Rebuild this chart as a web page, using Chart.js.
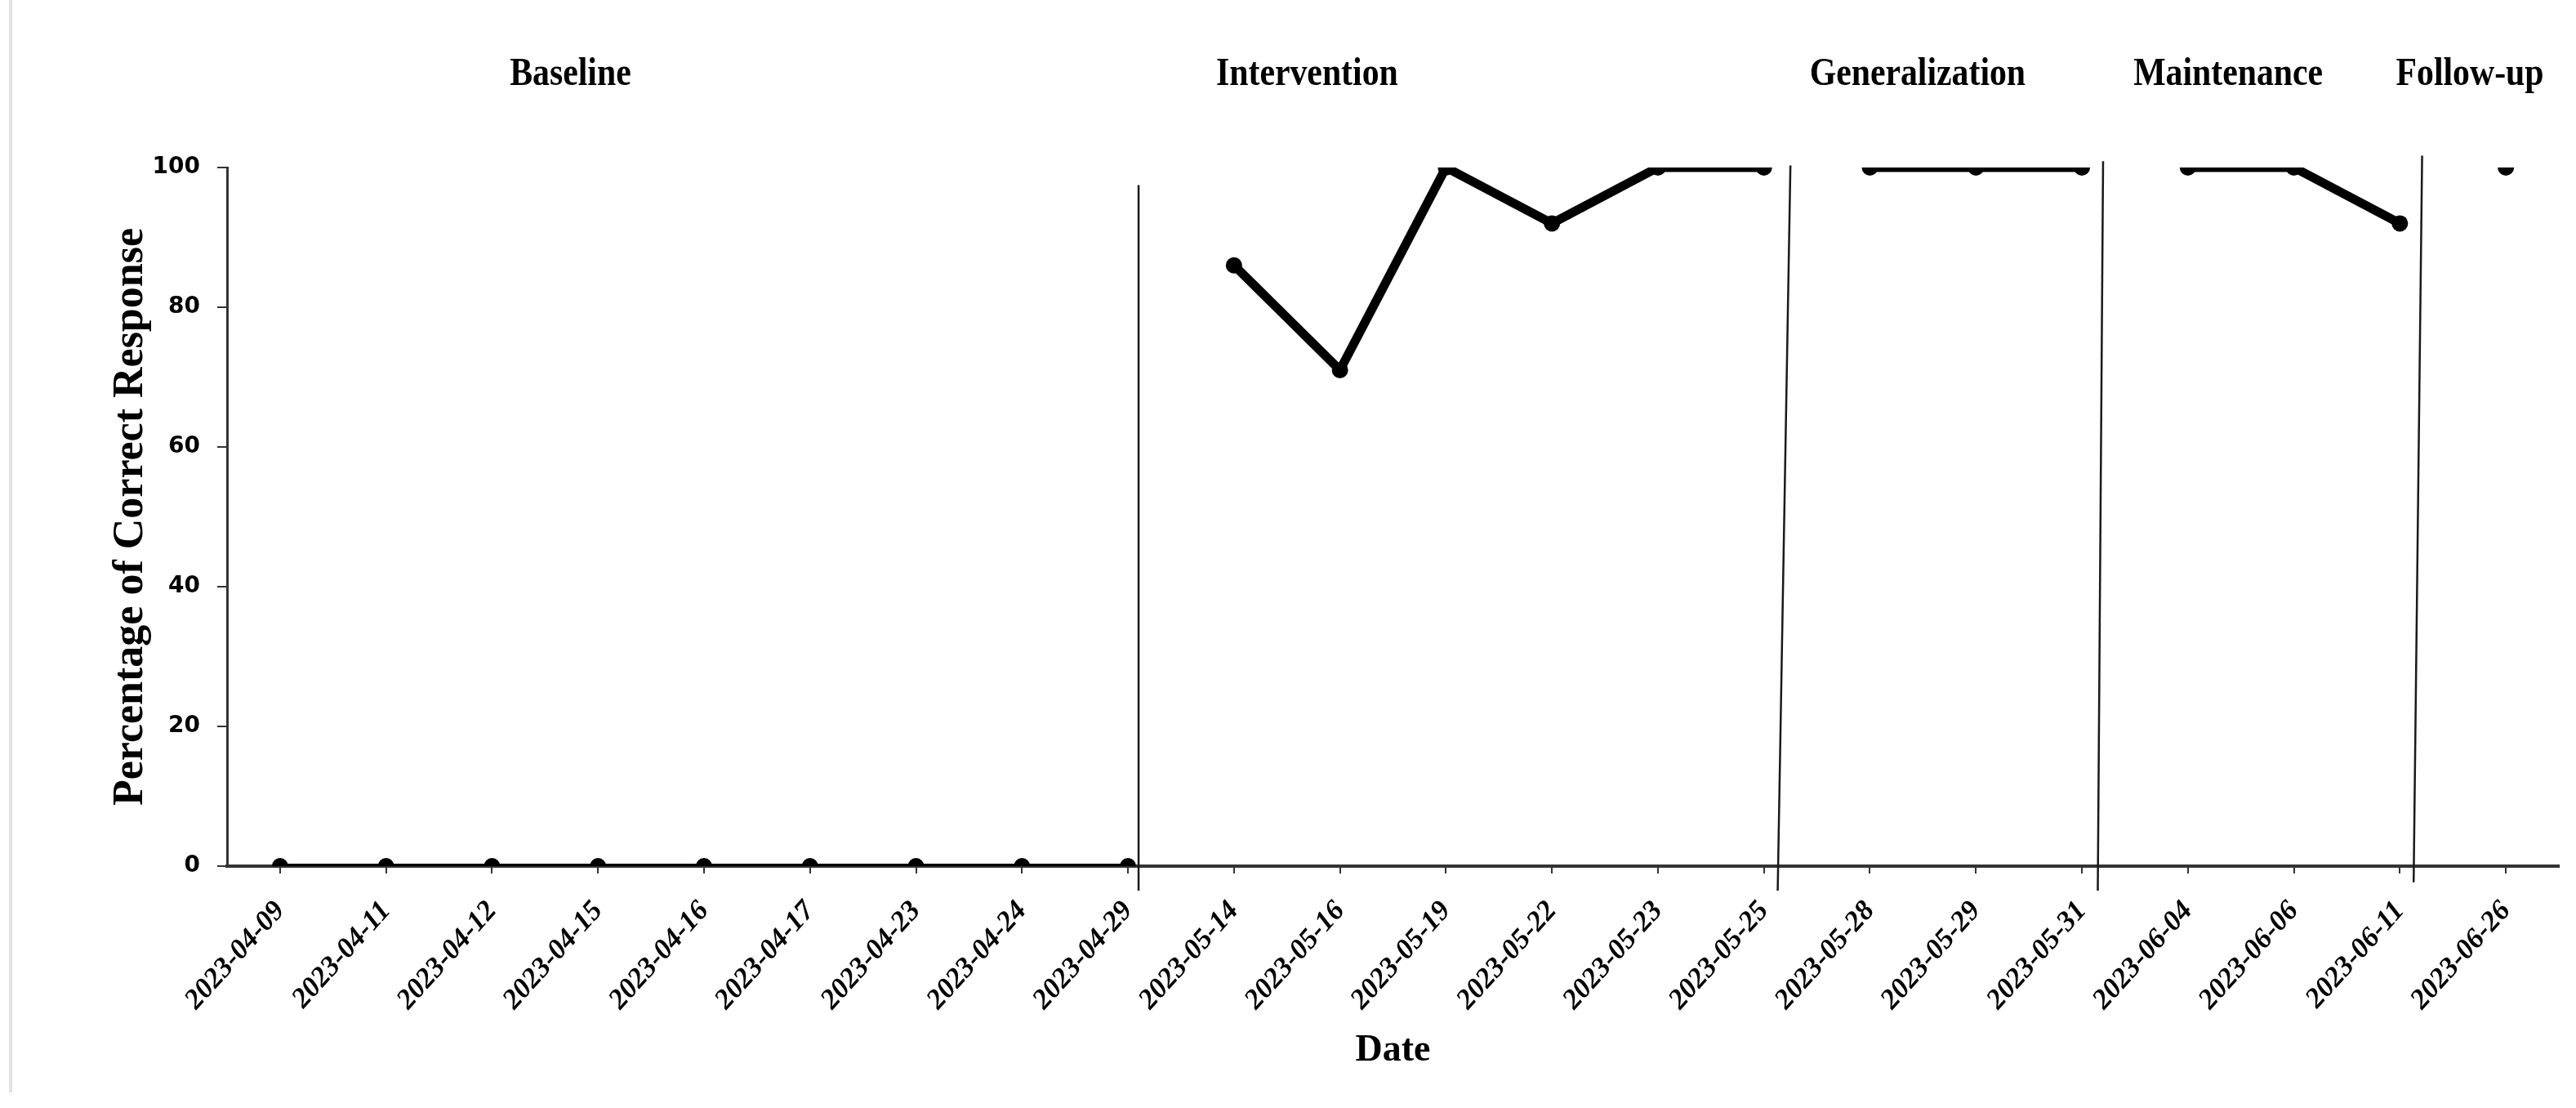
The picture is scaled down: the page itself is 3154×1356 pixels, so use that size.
<!DOCTYPE html>
<html>
<head>
<meta charset="utf-8">
<script src="https://cdn.jsdelivr.net/npm/chart.js@4.4.1/dist/chart.umd.min.js"></script>
<style>
  html, body { margin: 0; padding: 0; background: #fff; }
  #wrap { position: relative; width: 3154px; height: 1356px; }
  #edge { position: absolute; left: 11px; top: 0; width: 4px; height: 1337px; background: #e2e2e2; }
  canvas { position: absolute; left: 0; top: 0; }
</style>
</head>
<body>
<div id="wrap">
  <div id="edge"></div>
  <canvas id="phaseChart" width="3154" height="1356"></canvas>
</div>
<script>
let dates = [
    '2023-04-09', '2023-04-11', '2023-04-12', '2023-04-15', '2023-04-16', '2023-04-17',
    '2023-04-23', '2023-04-24', '2023-04-29',
    '2023-05-14', '2023-05-16', '2023-05-19', '2023-05-22', '2023-05-23', '2023-05-25',
    '2023-05-28', '2023-05-29', '2023-05-31',
    '2023-06-04', '2023-06-06', '2023-06-11',
    '2023-06-26'
];

// one array per phase, in date order
let baseline = [0, 0, 0, 0, 0, 0, 0, 0, 0];
let intervention = [86, 71, 100, 92, 100, 100];
let generalization = [100, 100, 100];
let maintenance = [100, 100, 92];
let followUp = [100];

let phaseNames = ['Baseline', 'Intervention', 'Generalization', 'Maintenance', 'Follow-up'];
let phaseNameX = [2.74, 9.69, 15.45, 18.38, 20.66];   // in category units

// phase change lines (category units / percent), drawn a bit slanted like the original
let phaseLineTopX = [8.1, 14.25, 17.2, 20.21];
let phaseLineBottomX = [8.1, 14.13, 17.15, 20.13];
let phaseLineTopY = [97.5, 100.3, 100.9, 101.7];
let phaseLineBottomY = [-3.5, -3.5, -3.5, -2.3];

let yTicks = [0, 20, 40, 60, 80, 100];

function padPhase(values, start) {
    let out = dates.map(() => null);
    values.forEach((v, i) => { out[start + i] = v; });
    return out;
}

let phases = [baseline, intervention, generalization, maintenance, followUp];
let datasets = [];
let start = 0;
phases.forEach((vals, i) => {
    datasets.push({
        label: phaseNames[i],
        data: padPhase(vals, start),
        borderColor: '#000',
        backgroundColor: '#000',
        borderWidth: i === 0 ? 6 : 11,
        borderCapStyle: 'round',
        borderJoinStyle: 'round',
        pointRadius: 10,
        pointHoverRadius: 10,
        pointBorderWidth: 0,
        pointBackgroundColor: '#000',
        tension: 0,
        spanGaps: false
    });
    start += vals.length;
});

const phasePlugin = {
    id: 'phasePlugin',
    afterDatasetsDraw(chart) {
        const ctx = chart.ctx;
        const x = chart.scales.x;
        const y = chart.scales.y;
        ctx.save();
        ctx.strokeStyle = '#1a1a1a';
        ctx.lineWidth = 2.5;
        for (let i = 0; i < phaseLineTopX.length; i++) {
            ctx.beginPath();
            ctx.moveTo(x.getPixelForValue(phaseLineTopX[i]), y.getPixelForValue(phaseLineTopY[i]));
            ctx.lineTo(x.getPixelForValue(phaseLineBottomX[i]), y.getPixelForValue(phaseLineBottomY[i]));
            ctx.stroke();
        }
        ctx.restore();
    },
    afterDraw(chart) {
        const ctx = chart.ctx;
        const x = chart.scales.x;
        ctx.save();
        ctx.fillStyle = '#000';
        ctx.font = 'bold 48px "Liberation Serif", "Times New Roman", serif';
        ctx.textAlign = 'center';
        ctx.textBaseline = 'middle';
        phaseNames.forEach((name, i) => {
            ctx.save();
            ctx.translate(x.getPixelForValue(phaseNameX[i]), chart.chartArea.top - 113);
            ctx.scale(0.87, 1); // the original lettering is narrow
            ctx.fillText(name, 0, 0);
            ctx.restore();
        });
        ctx.restore();
    }
};

const ctx = document.getElementById('phaseChart').getContext('2d');
new Chart(ctx, {
    type: 'line',
    data: { labels: dates, datasets: datasets },
    options: {
        responsive: false,
        animation: false,
        devicePixelRatio: 1,
        layout: { padding: { left: 129, right: 21, top: 205, bottom: 42 } },
        plugins: {
            legend: { display: false },
            tooltip: { enabled: false }
        },
        scales: {
            x: {
                type: 'category',
                offset: true,
                afterFit(scale) {
                    scale.height = 254;
                },
                grid: {
                    offset: false,
                    drawOnChartArea: false,
                    drawTicks: true,
                    tickLength: 9,
                    color: '#333',
                    lineWidth: 2
                },
                border: { display: true, color: '#333', width: 4 },
                ticks: {
                    color: '#000',
                    autoSkip: false,
                    minRotation: 48,
                    maxRotation: 48,
                    padding: 26,
                    font: { family: '"Liberation Serif", "Times New Roman", serif', size: 35, weight: 'bold', style: 'italic' }
                },
                title: {
                    display: true,
                    text: 'Date',
                    color: '#000',
                    padding: { top: 8, bottom: 0 },
                    font: { family: '"Liberation Serif", "Times New Roman", serif', size: 46, weight: 'bold' }
                }
            },
            y: {
                min: 0,
                max: 100,
                afterBuildTicks(scale) {
                    scale.ticks = yTicks.map(v => ({ value: v }));
                },
                afterFit(scale) {
                    scale.width = 149;
                },
                grid: {
                    drawOnChartArea: false,
                    drawTicks: true,
                    tickLength: 12,
                    color: '#333',
                    lineWidth: 2
                },
                border: { display: true, color: '#333', width: 3 },
                ticks: {
                    color: '#000',
                    padding: 21,
                    font: { family: '"DejaVu Sans", sans-serif', size: 28, weight: 'bold' }
                },
                title: {
                    display: true,
                    text: 'Percentage of Correct Response',
                    color: '#000',
                    padding: { top: 0, bottom: 0 },
                    font: { family: '"Liberation Serif", "Times New Roman", serif', size: 52, weight: 'bold' }
                }
            }
        }
    },
    plugins: [phasePlugin]
});
</script>
</body>
</html>
